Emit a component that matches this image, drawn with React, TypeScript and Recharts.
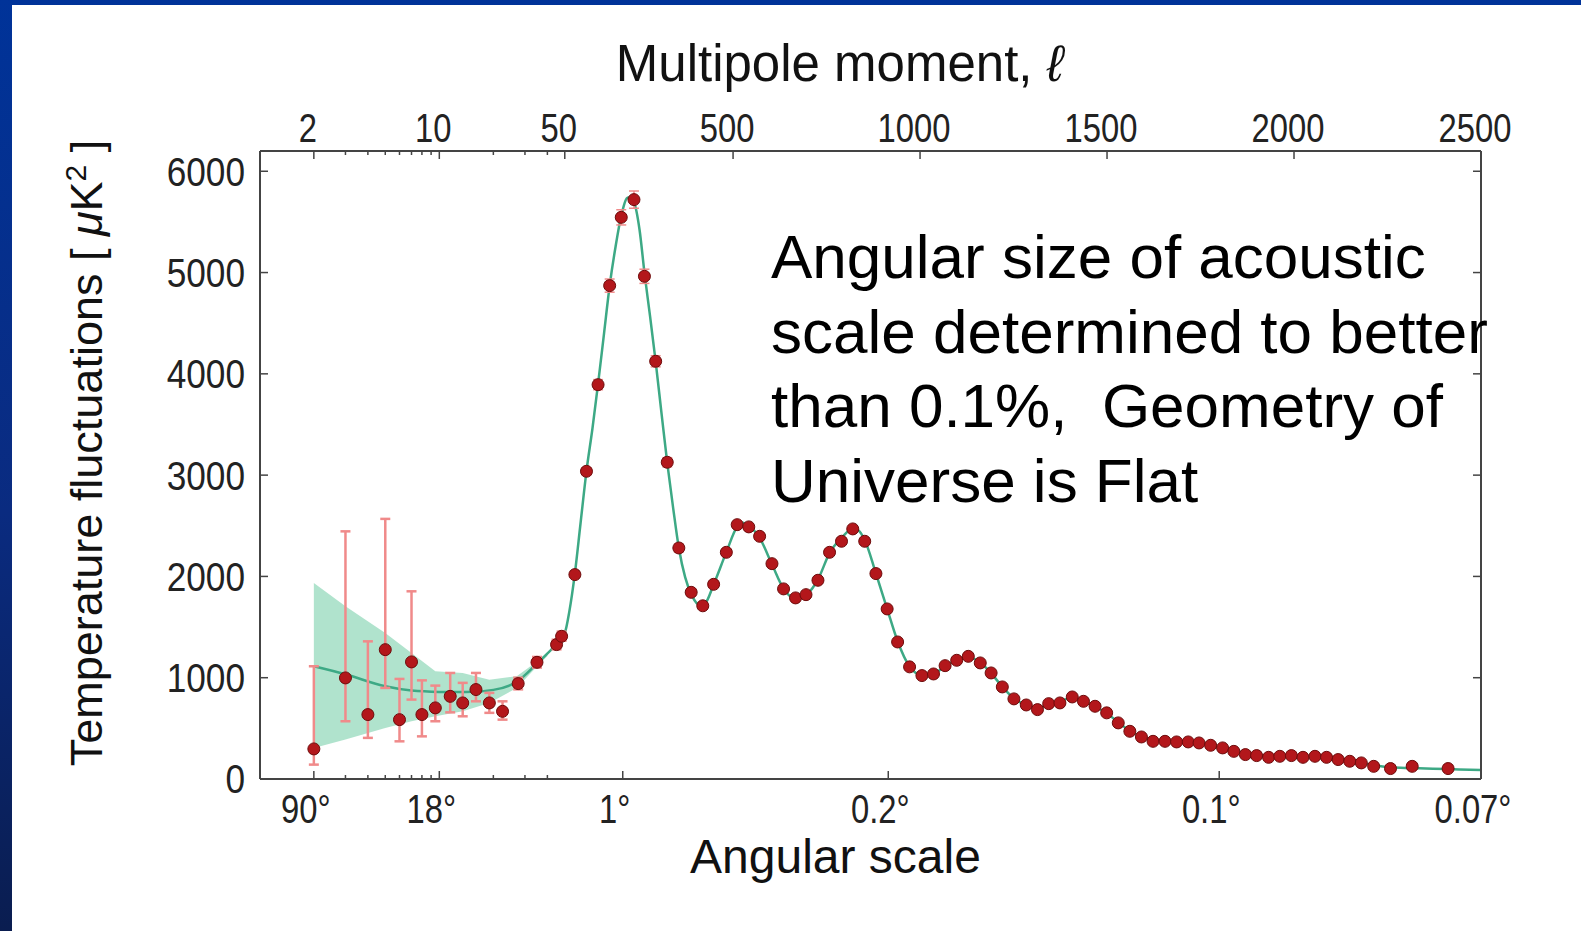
import React from "react";
import { ComposedChart, XAxis, YAxis, Line, Area, Scatter, ErrorBar, Label } from "recharts";

// low-ℓ binned points (log part of the axis) with asymmetric error bars
const lowEll = [2, 3, 4, 5, 6, 7, 8, 9.5, 11.5, 13.5, 16, 19, 22.5, 27.5, 35, 45, 48];
const lowD = [297, 998, 636, 1277, 586, 1156, 636, 702, 816, 751, 883, 751, 668, 942, 1152, 1327, 1409];
const lowLo = [142, 570, 406, 899, 372, 784, 421, 570, 658, 619, 767, 653, 586, 885, 1100, 1280, 1365];
const lowHi = [1113, 2445, 1359, 2568, 988, 1853, 974, 922, 1047, 949, 1047, 850, 767, 1000, 1205, 1375, 1455];

// high-ℓ binned points (linear part)
const highEll = [
  77, 108, 139, 170, 201, 235, 263, 293, 324, 355, 388, 419, 448, 482, 511, 542, 571, 604, 635, 667,
  695, 727, 758, 790, 820, 852, 882, 912, 940, 972, 1005, 1036, 1067, 1098, 1129, 1161, 1190, 1220, 1251, 1284,
  1314, 1344, 1374, 1407, 1437, 1468, 1499, 1530, 1561, 1592, 1623, 1655, 1686, 1717, 1746, 1777, 1809, 1839, 1870, 1900,
  1932, 1962, 1993, 2024, 2056, 2087, 2118, 2149, 2180, 2213, 2258, 2316, 2412,
];
const highD = [
  2018, 3038, 3893, 4871, 5545, 5720, 4963, 4124, 3127, 2281, 1843, 1710, 1922, 2238, 2511, 2489, 2396, 2126, 1877, 1788,
  1820, 1962, 2238, 2347, 2469, 2347, 2028, 1679, 1353, 1107, 1021, 1037, 1119, 1172, 1211, 1146, 1047, 909, 791, 731,
  685, 744, 751, 810, 767, 718, 653, 554, 471, 415, 372, 372, 366, 366, 356, 333, 307, 273, 241, 231,
  214, 224, 231, 214, 224, 214, 192, 175, 159, 125, 103, 125, 103,
];
const highErr = [
  25, 35, 50, 65, 75, 85, 70, 55, 45, 40, 35, 30, 30, 30, 30, 30, 30, 28, 28, 28,
  28, 28, 28, 28, 28, 28, 26, 26, 26, 26, 25, 25, 25, 25, 25, 25, 24, 24, 24, 24,
  24, 24, 24, 24, 24, 24, 24, 22, 22, 22, 22, 22, 22, 22, 22, 22, 22, 22, 22, 22,
  22, 22, 22, 22, 22, 22, 22, 22, 22, 22, 25, 28, 30,
];

// best-fit model curve
const theoryEll = [
  2, 3, 5, 7, 10, 14, 20, 27, 35, 45, 50, 62, 77, 92, 108, 124, 139, 155, 170, 186,
  201, 219, 235, 250, 263, 278, 293, 309, 324, 340, 355, 372, 390, 410, 425, 448, 482, 511, 527, 542,
  571, 604, 635, 660, 680, 700, 727, 758, 790, 820, 835, 852, 882, 912, 940, 972, 1005, 1036, 1067, 1098,
  1129, 1161, 1190, 1220, 1251, 1284, 1314, 1344, 1374, 1407, 1437, 1468, 1499, 1530, 1561, 1592, 1623, 1686, 1746, 1809,
  1870, 1932, 1993, 2056, 2118, 2180, 2258, 2316, 2412, 2500,
];
const theoryD = [
  1113, 1034, 915, 873, 860, 858, 880, 960, 1140, 1335, 1440, 1650, 2030, 2520, 3040, 3460, 3900, 4400, 4870, 5260,
  5560, 5740, 5690, 5420, 5000, 4570, 4120, 3600, 3120, 2670, 2280, 1990, 1810, 1720, 1735, 1920, 2240, 2490, 2530, 2500,
  2380, 2120, 1880, 1790, 1785, 1830, 1970, 2230, 2380, 2470, 2455, 2360, 2030, 1680, 1360, 1110, 1025, 1040, 1110, 1175,
  1205, 1150, 1045, 910, 795, 730, 700, 735, 770, 800, 770, 715, 650, 560, 475, 418, 385, 368, 352, 305,
  250, 222, 218, 212, 190, 158, 115, 108, 98, 88,
];

// cosmic variance band at low ℓ
const bandEll = [2, 3, 5, 7, 9.5, 13.5, 19, 27, 35, 40];
const bandLo = [307, 389, 504, 570, 619, 668, 751, 899, 1110, 1215];
const bandHi = [1936, 1705, 1442, 1245, 1063, 1047, 981, 1014, 1160, 1255];

const topTickEll = [2, 10, 50, 500, 1000, 1500, 2000, 2500];
const topTickLabels = ["2", "10", "50", "500", "1000", "1500", "2000", "2500"];
const angularTickEll = [2, 10, 205, 915, 1800, 2500];
const angularTickLabels = ["90°", "18°", "1°", "0.2°", "0.1°", "0.07°"];
const minorTickEll = [3, 4, 5, 6, 7, 8, 9, 20, 30, 40];
const yTicks = [0, 1000, 2000, 3000, 4000, 5000, 6000];

const annotationLines = [
  "Angular size of acoustic",
  "scale determined to better",
  "than 0.1%,  Geometry of",
  "Universe is Flat",
];

// log below ℓ=50, linear above, like the Planck figure
const toAxis = (ell: number) => (ell >= 50 ? ell : 50 - 480 * Math.log10(50 / ell));

const lowData = lowEll.map((ell, i) => ({
  u: toAxis(ell),
  d: lowD[i],
  err: [lowD[i] - lowLo[i], lowHi[i] - lowD[i]],
}));
const highData = highEll.map((ell, i) => ({ u: toAxis(ell), d: highD[i], err: highErr[i] }));
const theoryData = theoryEll.map((ell, i) => ({ u: toAxis(ell), d: theoryD[i] }));
const bandData = bandEll.map((ell, i) => ({ u: toAxis(ell), band: [bandLo[i], bandHi[i]] }));

const topLabelByU = new Map(topTickEll.map((e, i) => [toAxis(e), topTickLabels[i]]));
const bottomLabelByU = new Map(angularTickEll.map((e, i) => [toAxis(e), angularTickLabels[i]]));
const topTicks = [...topTickEll, ...minorTickEll].map(toAxis);
const bottomTicks = [...angularTickEll, ...minorTickEll].map(toAxis);

const X_DOMAIN = [-765, 2500];
const AXIS = "#444";
const FONT = "'Liberation Sans', Arial, 'DejaVu Sans', sans-serif";

function TopTick({ x, y, payload }: any) {
  const label = topLabelByU.get(payload.value);
  return (
    <g>
      <line x1={x} y1={y} x2={x} y2={y + (label ? 8 : 4)} stroke={AXIS} strokeWidth={1.5} />
      {label && (
        <text
          transform={`translate(${x - 6},${y - 9}) scale(0.82,1)`}
          textAnchor="middle"
          fontSize={40}
          fontFamily={FONT}
          fill="#222"
        >
          {label}
        </text>
      )}
    </g>
  );
}

function BottomTick({ x, y, payload }: any) {
  const label = bottomLabelByU.get(payload.value);
  return (
    <g>
      <line x1={x} y1={y} x2={x} y2={y - (label ? 8 : 4)} stroke={AXIS} strokeWidth={1.5} />
      {label && (
        <text
          transform={`translate(${x - 8},${y + 44}) scale(0.82,1)`}
          textAnchor="middle"
          fontSize={40}
          fontFamily={FONT}
          fill="#222"
        >
          {label}
        </text>
      )}
    </g>
  );
}

function LeftTick({ x, y, payload }: any) {
  return (
    <g>
      <line x1={x} y1={y} x2={x + 8} y2={y} stroke={AXIS} strokeWidth={1.5} />
      <text
        transform={`translate(${x - 15},${y}) scale(0.88,1)`}
        textAnchor="end"
        dy="0.36em"
        fontSize={40}
        fontFamily={FONT}
        fill="#222"
      >
        {payload.value}
      </text>
    </g>
  );
}

function RightTick({ x, y }: any) {
  return <line x1={x} y1={y} x2={x - 8} y2={y} stroke={AXIS} strokeWidth={1.5} />;
}

function TopTitle({ viewBox }: any) {
  return (
    <text x={viewBox.x + viewBox.width / 2 - 31} y={viewBox.y - 20} textAnchor="middle" fontSize={51} fontFamily={FONT} fill="#111">
      Multipole moment, <tspan fontStyle="italic">ℓ</tspan>
    </text>
  );
}

function BottomTitle({ viewBox }: any) {
  return (
    <text x={viewBox.x + viewBox.width / 2 - 35} y={viewBox.y + 94} textAnchor="middle" fontSize={48} fontFamily={FONT} fill="#111">
      Angular scale
    </text>
  );
}

function LeftTitle({ viewBox }: any) {
  const cx = viewBox.x - 74;
  const cy = viewBox.y + viewBox.height / 2 - 12;
  return (
    <text
      transform={`translate(${cx},${cy}) rotate(-90)`}
      textAnchor="middle"
      dy="0.36em"
      fontSize={45}
      fontFamily={FONT}
      fill="#111"
    >
      Temperature fluctuations [ <tspan fontStyle="italic">μ</tspan>K
      <tspan dy="-16" fontSize={30}>2</tspan>
      <tspan dy="16"> ]</tspan>
    </text>
  );
}

const Dot = (p: any) => <circle cx={p.cx} cy={p.cy} r={6} fill="#b3171b" stroke="#6d0b0b" strokeWidth={1} />;

export default function App() {
  return (
    <div
      style={{
        position: "absolute",
        left: 0,
        top: 0,
        width: 1581,
        height: 931,
        overflow: "hidden",
        background: "linear-gradient(to bottom, #003399 0%, #0a2b80 55%, #0a1d50 100%)",
        fontFamily: FONT,
      }}
    >
      <div style={{ position: "absolute", left: 12, top: 5, right: 0, bottom: 0, background: "#fff" }} />
      <div style={{ position: "absolute", left: 0, top: 0 }}>
        <ComposedChart width={1581} height={931} margin={{ top: 101, right: 90, bottom: 102, left: 160 }}>
          <XAxis
            dataKey="u"
            type="number"
            domain={X_DOMAIN}
            allowDataOverflow
            ticks={bottomTicks}
            interval={0}
            height={50}
            tickSize={0}
            tickMargin={0}
            tickLine={false}
            tick={BottomTick}
            axisLine={{ stroke: AXIS, strokeWidth: 2 }}
          >
            <Label content={BottomTitle} />
          </XAxis>
          <XAxis
            xAxisId="top"
            dataKey="u"
            orientation="top"
            type="number"
            domain={X_DOMAIN}
            allowDataOverflow
            ticks={topTicks}
            interval={0}
            height={50}
            tickSize={0}
            tickMargin={0}
            tickLine={false}
            tick={TopTick}
            axisLine={{ stroke: AXIS, strokeWidth: 2 }}
          >
            <Label content={TopTitle} />
          </XAxis>
          <YAxis
            type="number"
            domain={[0, 6200]}
            allowDataOverflow
            ticks={yTicks}
            interval={0}
            width={100}
            tickSize={0}
            tickMargin={0}
            tickLine={false}
            tick={LeftTick}
            axisLine={{ stroke: AXIS, strokeWidth: 2 }}
          >
            <Label content={LeftTitle} />
          </YAxis>
          <YAxis
            yAxisId="right"
            orientation="right"
            type="number"
            domain={[0, 6200]}
            allowDataOverflow
            ticks={yTicks}
            interval={0}
            width={10}
            tickSize={0}
            tickMargin={0}
            tickLine={false}
            tick={RightTick}
            axisLine={{ stroke: AXIS, strokeWidth: 2 }}
          />
          <Area
            data={bandData}
            dataKey="band"
            type="linear"
            stroke="none"
            fill="#a2dec4"
            fillOpacity={0.85}
            isAnimationActive={false}
          />
          <Line
            data={theoryData}
            dataKey="d"
            type="monotone"
            stroke="#3da985"
            strokeWidth={2.5}
            dot={false}
            isAnimationActive={false}
          />
          {/* same model curve bound to the top/right axes so those frame sides get drawn */}
          <Line
            data={theoryData}
            dataKey="d"
            xAxisId="top"
            yAxisId="right"
            stroke="none"
            dot={false}
            activeDot={false}
            isAnimationActive={false}
          />
          <Scatter data={lowData} dataKey="d" shape={Dot} isAnimationActive={false}>
            <ErrorBar dataKey="err" direction="y" width={5} stroke="#f08a8a" strokeWidth={2.5} />
          </Scatter>
          <Scatter data={highData} dataKey="d" shape={Dot} isAnimationActive={false}>
            <ErrorBar dataKey="err" direction="y" width={5} stroke="#f08a8a" strokeWidth={1.5} />
          </Scatter>
        </ComposedChart>
      </div>
      <div
        style={{
          position: "absolute",
          left: 771,
          top: 220,
          fontSize: 62,
          lineHeight: "74.5px",
          color: "#000",
          whiteSpace: "pre",
        }}
      >
        {annotationLines.join("\n")}
      </div>
    </div>
  );
}
